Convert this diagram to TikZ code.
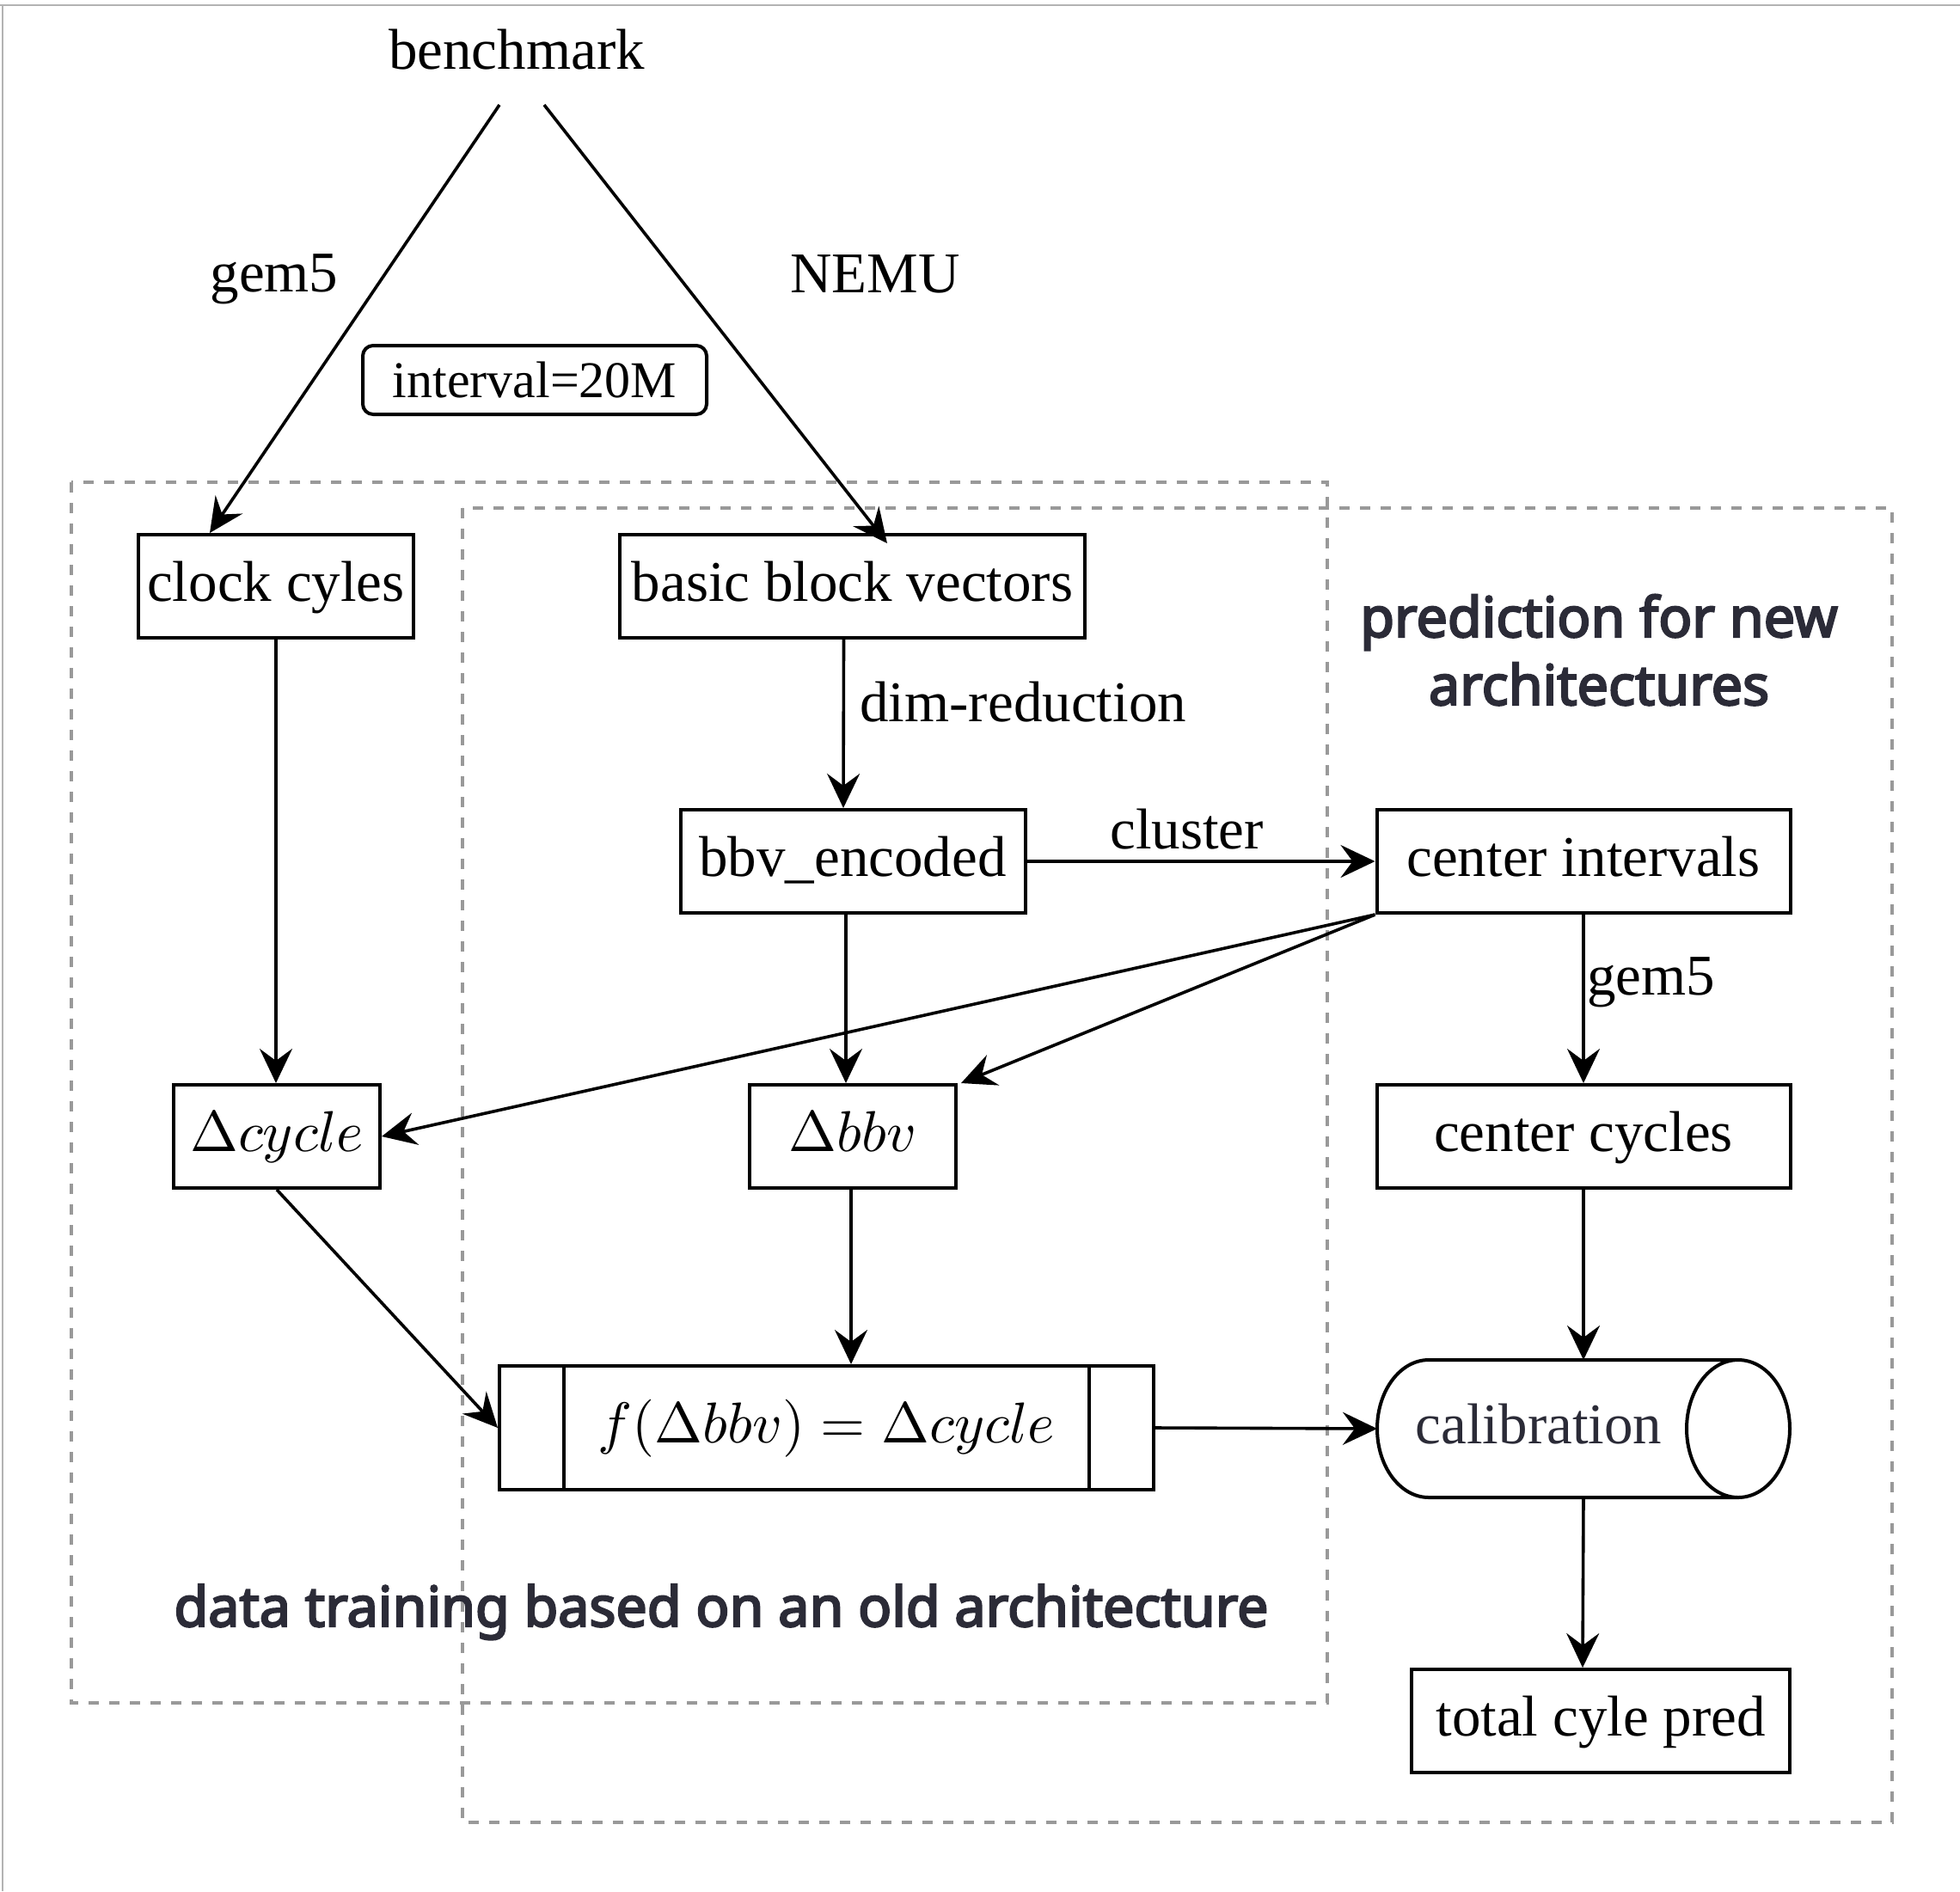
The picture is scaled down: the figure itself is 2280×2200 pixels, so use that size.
\documentclass[tikz,border=0pt]{standalone}
\usepackage{fix-cm}
\usepackage{fontspec}
\setmainfont{Liberation Serif}
\newfontfamily\labelfont{Noto Sans}[FakeBold=3.6]
\usetikzlibrary{arrows.meta,calc}
\definecolor{framegray}{RGB}{179,179,179}
\definecolor{dashgray}{RGB}{153,153,153}
\definecolor{labeldark}{RGB}{43,43,55}
\newcommand{\bigmath}[1]{\scalebox{3.35}{\fontsize{10}{12}\selectfont$#1$}}
\begin{document}
\begin{tikzpicture}[x=0.5pt,y=-0.5pt,
  box/.style={draw, line width=2pt, inner sep=0pt, minimum height=60pt, text height=24pt, text depth=7pt, font=\fontsize{33.5}{40}\selectfont},
  arr/.style={line width=1.8pt, -{Stealth[length=20pt,width=19pt,inset=7pt]}},
  lbl/.style={anchor=base, inner sep=0pt, font=\fontsize{33.5}{40}\selectfont},
  grp/.style={draw=dashgray, line width=1.65pt, dash pattern=on 6pt off 6pt},
  title/.style={inner sep=0pt, anchor=base, text=labeldark, font=\labelfont\fontsize{32.3}{39.5}\selectfont}
]
\useasboundingbox (0,0) rectangle (2280,2200);
% outer frame lines
\draw[framegray, line width=1pt] (0,6) -- (2280,6);
\draw[framegray, line width=1pt] (3,6) -- (3,2200);
% group frames
\draw[grp] (83,561) rectangle (1544,1981);
\draw[grp] (538,591) rectangle (2201,2120);
% text labels
\node[lbl] (bench) at (601,80) {benchmark};
\node[lbl] (lgem) at (319,339) {gem5};
\node[lbl] (lnemu) at (1018,340) {NEMU};
\node[draw, rounded corners=6pt, line width=2pt, minimum width=200pt, minimum height=40pt, inner sep=0pt, text height=20pt, text depth=0pt, font=\fontsize{30}{36}\selectfont] (intv) at (622,442) {interval=20M};
\node[lbl, anchor=base west] (ldim) at (1000,839) {dim-reduction};
\node[lbl, anchor=base west] (lclu) at (1291,987) {cluster};
\node[lbl, anchor=base west] (lgem2) at (1846,1157) {gem5};
\node[title] (tpred1) at (1860,741) {prediction for new};
\node[title] (tpred2) at (1860,820) {architectures};
\node[title] (ttrain) at (839,1892) {data training based on an old architecture};
% boxes
\node[box, minimum width=160pt] (clock) at (321,682) {clock cyles};
\node[box, minimum width=270.5pt] (bbv) at (991.5,682) {basic block vectors};
\node[box, minimum width=200.5pt] (enc) at (992,1002) {bbv\_encoded};
\node[box, minimum width=240.5pt] (ci) at (1842,1002) {center intervals};
\node[box, minimum width=120pt] (dcyc) at (322,1322) {\bigmath{\Delta cycle}};
\node[box, minimum width=120pt] (dbbv) at (992,1322) {\bigmath{\Delta bbv}};
\node[box, minimum width=240.5pt] (cc) at (1842,1322) {center cycles};
\node[box, minimum width=380.5pt, minimum height=72pt] (proc) at (961.5,1661) {\bigmath{f(\Delta bbv)=\Delta cycle}};
\draw[line width=2pt] ([xshift=38.5pt]proc.north west) -- ([xshift=38.5pt]proc.south west);
\draw[line width=2pt] ([xshift=-38.5pt]proc.north east) -- ([xshift=-38.5pt]proc.south east);
\node[box, minimum width=220pt] (total) at (1862,2002) {total cyle pred};
% cylinder
\draw[line width=2pt] (1662,1582) -- (2022,1582) (1662,1742) -- (2022,1742)
  (1662,1582) arc[start angle=90, end angle=270, x radius=30pt, y radius=40pt]
  (2022,1662) ellipse [x radius=30pt, y radius=40pt];
\node[inner sep=0pt, text height=24pt, text depth=7pt, text=labeldark, font=\fontsize{33.5}{40}\selectfont] (cal) at (1790,1662) {calibration};
\coordinate (calW) at (1602,1662);
\coordinate (calN) at (1842,1582);
\coordinate (calS) at (1842,1742);
% connectors
\coordinate (bs1) at (581,122);
\coordinate (bs2) at (633,122);
\draw[arr] (bs1) -- ([xshift=-38.5pt]clock.north);
\draw[arr] (bs2) -- ([xshift=20.25pt, yshift=-6pt]bbv.north);
\draw[arr] (clock.south) -- (clock.south |- dcyc.north);
\draw[arr] ([xshift=-5pt]bbv.south) -- ([xshift=-5.5pt]enc.north);
\draw[arr] (enc.east) -- (ci.west);
\draw[arr] ([xshift=-4pt]enc.south) -- ([xshift=-4pt]dbbv.north);
\draw[arr] (ci.south west) -- (dcyc.east);
\draw[arr] (ci.south west) -- ([xshift=2pt]dbbv.north east);
\draw[arr] (ci.south) -- (cc.north);
\draw[arr] (dcyc.south) -- (proc.west);
\draw[arr] ([xshift=-1pt]dbbv.south) -- ([xshift=14.25pt]proc.north);
\draw[arr] (proc.east) -- (calW);
\draw[arr] (cc.south) -- (calN);
\draw[arr] (calS) -- ([xshift=-10.5pt]total.north);
\end{tikzpicture}
\end{document}
